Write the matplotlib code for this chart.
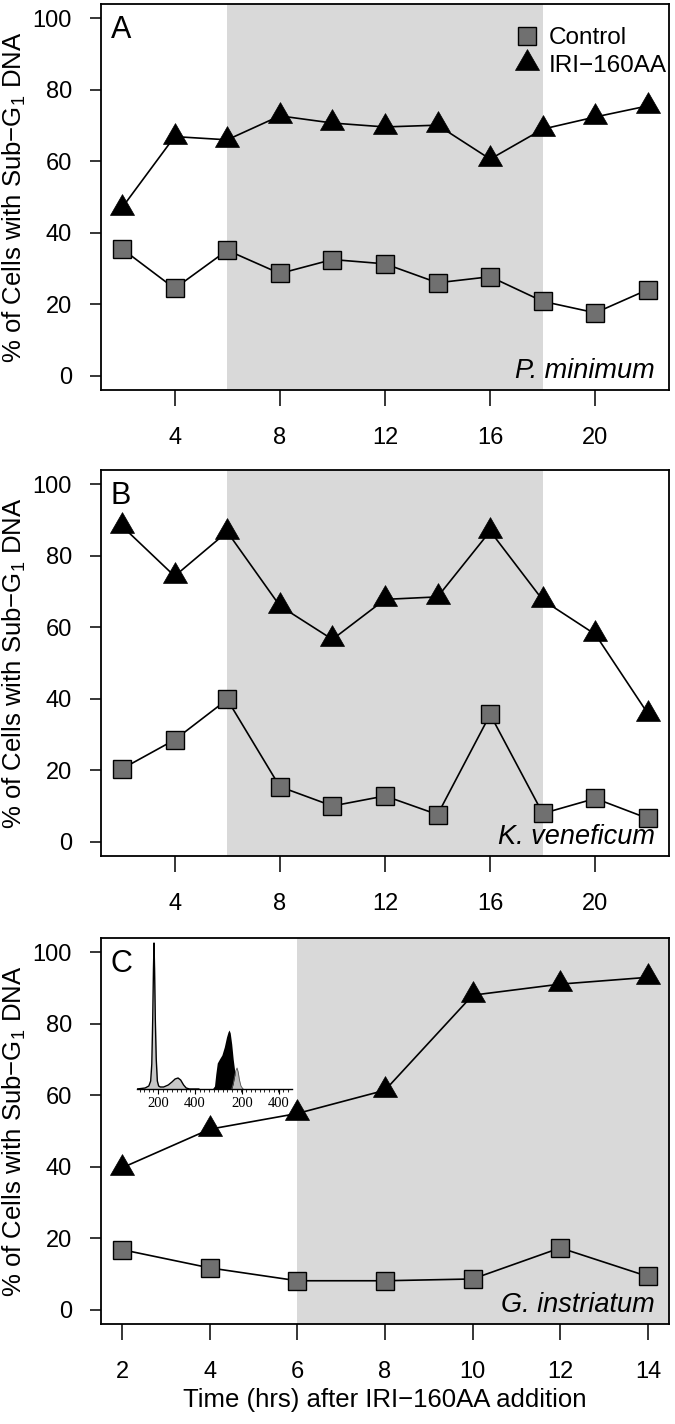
import matplotlib
matplotlib.use("Agg")
import matplotlib.pyplot as plt
from matplotlib.path import Path
from matplotlib.lines import Line2D
import numpy as np

plt.rcParams['font.family'] = ['Liberation Sans', 'DejaVu Sans']
plt.rcParams['mathtext.fontset'] = 'custom'
plt.rcParams['mathtext.rm'] = 'Liberation Sans'
plt.rcParams['mathtext.it'] = 'Liberation Sans:italic'

# ---------------- data ----------------
hours_ab = [2, 4, 6, 8, 10, 12, 14, 16, 18, 20, 22]
hours_c = [2, 4, 6, 8, 10, 12, 14]

a_control = [35.5, 24.4, 35.1, 28.6, 32.5, 31.3, 26.0, 27.7, 20.8, 17.6, 24.1]
a_iri = [47.0, 66.9, 66.0, 72.7, 70.7, 69.6, 70.1, 60.6, 69.0, 72.4, 75.5]

b_control = [20.4, 28.5, 39.8, 15.4, 10.0, 12.8, 7.6, 35.6, 7.9, 12.1, 6.5]
b_iri = [88.3, 74.3, 86.7, 66.0, 56.6, 67.8, 68.5, 86.9, 67.6, 58.0, 35.8]

c_control = [16.8, 11.7, 8.1, 8.1, 8.6, 17.3, 9.3]
c_iri = [39.7, 50.5, 54.9, 61.4, 88.0, 91.1, 93.0]

xticks_ab = [4, 8, 12, 16, 20]
xticks_c = [2, 4, 6, 8, 10, 12, 14]
yticks = [0, 20, 40, 60, 80, 100]

panel_letters = ["A", "B", "C"]
species = ["P. minimum", "K. veneficum", "G. instriatum"]
dark_start = [6, 6, 6]
dark_end = [18, 18, None]

legend_labels = ["Control", "IRI\u2212160AA"]
ylabel = r"% of Cells with Sub$-$G$_1$ DNA"
xlabel = "Time (hrs) after IRI\u2212160AA addition"

# inset flow-cytometry histograms (channel units; second histogram offset)
inset_ticks = [200, 400, 654, 854]
inset_ticklabels = ["200", "400", "200", "400"]
h1_x = [86, 130, 150, 160, 166, 171, 175, 178, 181, 185, 190, 196, 203, 212,
        230, 255, 275, 292, 308, 322, 338, 352, 370, 420]
h1_y = [0, 1, 3, 8, 25, 70, 120, 146, 120, 70, 30, 8, 3, 2,
        2, 4, 7, 10, 11, 9, 4, 1, 0, 0]
h2_x = [470, 495, 505, 512, 520, 532, 545, 558, 570, 578, 584, 590, 598,
        606, 615, 625, 638, 652, 670, 700]
h2_y = [0, 0.5, 3, 15, 26, 30, 34, 42, 52, 57, 59, 56, 45,
        30, 17, 8, 3, 1, 0, 0]
h2g_x = [598, 606, 613, 620, 627, 633, 640, 648, 659]
h2g_y = [0, 5, 12, 18, 21, 17, 9, 3, 0]

# ---------------- style ----------------
SHADE = '#d9d9d9'
SQ_FILL = '#707070'
tri = Path([(0, 1.155), (-1, -0.577), (1, -0.577), (0, 1.155)],
           [Path.MOVETO, Path.LINETO, Path.LINETO, Path.CLOSEPOLY])

W, H = 675, 1424
fig = plt.figure(figsize=(W / 100, H / 100), dpi=100)

left_px, right_px = 101, 669
tops = [4, 470, 938]
ph = 386

datasets = [(hours_ab, a_control, a_iri, xticks_ab),
            (hours_ab, b_control, b_iri, xticks_ab),
            (hours_c, c_control, c_iri, xticks_c)]

axes = []
for i, (hrs, ctrl, iri, xt) in enumerate(datasets):
    top = tops[i]
    rect = [left_px / W, 1 - (top + ph) / H, (right_px - left_px) / W, ph / H]
    ax = fig.add_axes(rect)
    axes.append(ax)
    xmin, xmax = min(hrs), max(hrs)
    pad = 0.04 * (xmax - xmin)
    ax.set_xlim(xmin - pad, xmax + pad)
    ax.set_ylim(-4, 104)
    end = dark_end[i] if dark_end[i] is not None else xmax + pad
    ax.axvspan(dark_start[i], end, color=SHADE, lw=0, zorder=0)

    ax.plot(hrs, ctrl, color='black', lw=1.2, marker='s', ms=13,
            mfc=SQ_FILL, mec='black', mew=1.0, zorder=3)
    ax.plot(hrs, iri, color='black', lw=1.2, marker=tri, ms=20,
            mfc='black', mec='black', mew=0.5, zorder=3)

    ax.set_xticks(xt)
    ax.set_xticklabels([str(v) for v in xt])
    ax.set_yticks(yticks)
    ax.set_yticklabels([str(v) for v in yticks])
    ax.tick_params(axis='x', direction='out', length=11.5, width=1.1,
                   pad=15, labelsize=17)
    ax.tick_params(axis='y', direction='out', length=8, width=1.1,
                   pad=13, labelsize=17)
    for s in ax.spines.values():
        s.set_linewidth(1.3)

    ax.set_ylabel(ylabel, fontsize=18.5)
    ax.yaxis.set_label_coords(-0.128, 0.5)

    ax.text(0.017, 0.913, panel_letters[i], transform=ax.transAxes,
            fontsize=22, ha='left', va='baseline')
    ax.text(0.975, 0.03, species[i], transform=ax.transAxes, fontsize=19.5,
            style='italic', ha='right', va='baseline')

axes[2].set_xlabel(xlabel, fontsize=18.5, labelpad=4)

# legend in panel A
handles = [Line2D([], [], ls='none', marker='s', ms=13, mfc=SQ_FILL,
                  mec='black', mew=1.0),
           Line2D([], [], ls='none', marker=tri, ms=20, mfc='black',
                  mec='black', mew=0.5)]
axes[0].legend(handles, legend_labels, loc='upper right',
               bbox_to_anchor=(1.014, 0.965), frameon=False,
               fontsize=17.5, handletextpad=0.3, labelspacing=0.22,
               borderaxespad=0.2, borderpad=0.2, handlelength=1.2)

# inset histograms in panel C
ins = fig.add_axes([137 / W, 1 - 1089 / H, (292 - 137) / W, 150 / H])
ins.patch.set_alpha(0)
ins.set_xlim(86, 924)
ins.set_ylim(0, 150)
for k in ['top', 'right', 'left']:
    ins.spines[k].set_visible(False)
ins.spines['bottom'].set_linewidth(1.0)
ins.set_yticks([])
ins.set_xticks(inset_ticks)
ins.set_xticklabels(inset_ticklabels, family='Liberation Serif', fontsize=10.5)
ins.set_xticks(np.arange(100, 924, 25), minor=True)
ins.tick_params(axis='x', which='major', length=3.5, width=0.8, pad=2)
ins.tick_params(axis='x', which='minor', length=2, width=0.6)
ins.fill_between(h1_x, h1_y, color='#c8c8c8', lw=0)
ins.plot(h1_x, h1_y, color='black', lw=1.0)
ins.fill_between(h2_x, h2_y, color='black', lw=0)
ins.fill_between(h2g_x, h2g_y, color='#bdbdbd', lw=0)
ins.plot(h2g_x, h2g_y, color='#555555', lw=0.6)

fig.savefig("out.png", dpi=100)
